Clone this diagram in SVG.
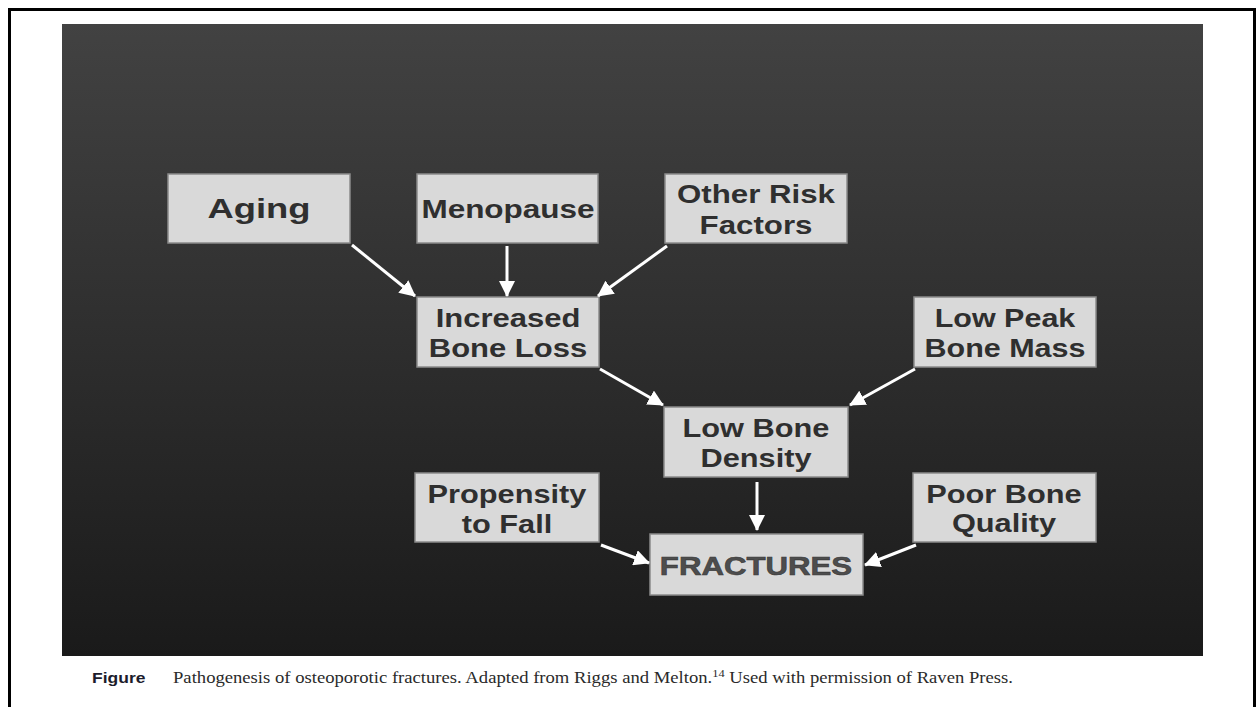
<svg xmlns="http://www.w3.org/2000/svg" width="1258" height="707" viewBox="0 0 1258 707">
  <defs>
    <linearGradient id="bg" x1="0" y1="0" x2="0" y2="1">
      <stop offset="0" stop-color="#424242"/>
      <stop offset="1" stop-color="#1a1a1a"/>
    </linearGradient>
    <marker id="ah" viewBox="0 0 16 16" refX="15" refY="8" markerWidth="16" markerHeight="16" markerUnits="userSpaceOnUse" orient="auto">
      <path d="M0,0 L16,8 L0,16 Z" fill="#ffffff"/>
    </marker>
    <style>
      .box { fill: #d9d9d9; stroke: #8a8a8a; stroke-width: 1.5; }
      .lbl { font-family: "Liberation Sans", Arial, sans-serif; font-weight: bold; font-size: 25px; fill: #2f2f2f; text-anchor: middle; }
      .big { font-size: 28px; }
      .frac { font-size: 26px; fill: #4d4d4d; stroke: #3a3a3a; stroke-width: 0.6; }
      .conn { stroke: #ffffff; stroke-width: 3; fill: none; marker-end: url(#ah); }
      .capb { font-family: "Liberation Sans", Arial, sans-serif; font-weight: bold; font-size: 14px; fill: #1c1c2c; }
      .capt { font-family: "Liberation Serif", "Times New Roman", serif; font-size: 16.5px; fill: #2a2a2a; }
    </style>
  </defs>

  <rect x="0" y="0" width="1258" height="707" fill="#ffffff"/>
  <rect x="9.5" y="9.5" width="1245" height="720" fill="none" stroke="#000000" stroke-width="3"/>
  <rect x="62" y="24" width="1141" height="632" fill="url(#bg)"/>

  <g id="aging">
    <rect class="box" x="168" y="174" width="182" height="69"/>
    <text class="lbl big" transform="translate(259,218) scale(1.3,1)">Aging</text>
  </g>
  <g id="menopause">
    <rect class="box" x="417" y="174" width="181" height="69"/>
    <text class="lbl" transform="translate(508,218) scale(1.26,1)">Menopause</text>
  </g>
  <g id="other-risk-factors">
    <rect class="box" x="665" y="174" width="182" height="69"/>
    <text class="lbl" transform="translate(756,203) scale(1.25,1)"><tspan x="0" y="0">Other Risk</tspan><tspan x="0" y="31">Factors</tspan></text>
  </g>
  <g id="increased-bone-loss">
    <rect class="box" x="417" y="297" width="182" height="70"/>
    <text class="lbl" transform="translate(508,327) scale(1.24,1)"><tspan x="0" y="0">Increased</tspan><tspan x="0" y="30">Bone Loss</tspan></text>
  </g>
  <g id="low-peak-bone-mass">
    <rect class="box" x="914" y="297" width="182" height="70"/>
    <text class="lbl" transform="translate(1005,327) scale(1.22,1)"><tspan x="0" y="0">Low Peak</tspan><tspan x="0" y="30">Bone Mass</tspan></text>
  </g>
  <g id="low-bone-density">
    <rect class="box" x="664" y="407" width="184" height="70"/>
    <text class="lbl" transform="translate(756,437) scale(1.23,1)"><tspan x="0" y="0">Low Bone</tspan><tspan x="0" y="30">Density</tspan></text>
  </g>
  <g id="propensity-to-fall">
    <rect class="box" x="415" y="473" width="184" height="69"/>
    <text class="lbl" transform="translate(507,503) scale(1.23,1)"><tspan x="0" y="0">Propensity</tspan><tspan x="0" y="30">to Fall</tspan></text>
  </g>
  <g id="fractures">
    <rect class="box" x="650" y="534" width="213" height="61"/>
    <text class="lbl frac" transform="translate(756,575) scale(1.2,1)">FRACTURES</text>
  </g>
  <g id="poor-bone-quality">
    <rect class="box" x="913" y="473" width="183" height="69"/>
    <text class="lbl" transform="translate(1004,503) scale(1.23,1)"><tspan x="0" y="0">Poor Bone</tspan><tspan x="0" y="29">Quality</tspan></text>
  </g>

  <g id="connectors">
    <line class="conn" x1="352" y1="245" x2="415" y2="296"/>
    <line class="conn" x1="507" y1="246" x2="507" y2="296"/>
    <line class="conn" x1="667" y1="246" x2="598" y2="296"/>
    <line class="conn" x1="600" y1="369" x2="663" y2="405"/>
    <line class="conn" x1="915" y1="369" x2="850" y2="405"/>
    <line class="conn" x1="757" y1="482" x2="757" y2="530"/>
    <line class="conn" x1="601" y1="545" x2="649" y2="563"/>
    <line class="conn" x1="916" y1="545" x2="865" y2="565"/>
  </g>

  <g id="caption">
    <text class="capb" transform="translate(92,683) scale(1.25,1)">Figure</text>
    <text class="capt" transform="translate(173,683) scale(1.13,1)">Pathogenesis of osteoporotic fractures. Adapted from Riggs and Melton.<tspan font-size="11" dy="-6">14</tspan><tspan dy="6"> Used with permission of Raven Press.</tspan></text>
  </g>
</svg>
